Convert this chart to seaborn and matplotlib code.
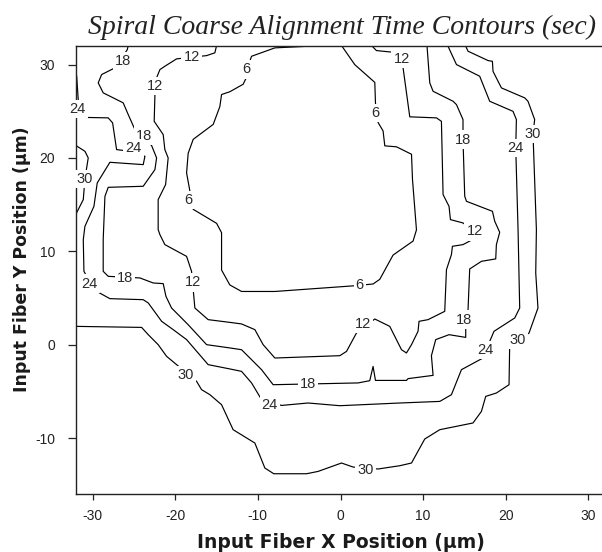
import matplotlib
matplotlib.use("Agg")
import matplotlib.pyplot as plt
import pandas as pd
import seaborn as sns

# ---- contour levels (sec) ----
levels = [6, 12, 18, 24, 30]

# ---- contour paths (x, y in um) ----
c6_x = [-2.1, -7.94, -10.76, -10.88, -11.45, -11.78, -13.39, -14.39, -14.6, -15.4, -17.82, -18.43,
        -18.62, -17.82, -14.99, -14.39, -14.39, -13.39, -11.97, -7.94, 1.52, 3.94, 4.75, 6.36, 8.78,
        9.19, 8.71, 8.59, 6.77, 5.36, 5.15, 4.55, 4.23, 4.15, 1.73, 0.12]
c6_y = [32.05, 31.8, 30.9, 30.6, 28.5, 27.9, 27.1, 26.8, 25.5, 23.6, 22.0, 20.5,
        18.4, 14.5, 13.0, 12.0, 8.0, 6.4, 5.7, 5.7, 6.3, 6.5, 7.0, 9.6, 11.1,
        12.3, 17.7, 20.4, 21.2, 21.3, 22.9, 23.8, 25.9, 28.1, 30.0, 32.05]

c12_x = [-14.99, -15.2, -16.2, -19.83, -21.25, -21.85, -22.25, -22.45, -22.54, -21.45, -21.25, -20.85,
         -21.16, -22.06, -22.06, -21.85, -21.25, -18.62, -18.02, -17.62, -16.01, -13.39, -11.97, -10.36,
         -9.36, -7.94, -0.08, 0.73, 1.93, 4.15, 5.96, 7.38, 7.98, 8.59, 9.38, 9.5, 10.59, 12.61, 12.82,
         13.42, 13.54, 14.82, 15.96, 16.3, 14.82, 13.3, 13.13, 12.41, 12.21, 11.61, 8.38, 7.57, 6.36, 4.35, 3.75]
c12_y = [32.05, 31.27, 30.97, 30.62, 29.83, 29.47, 28.59, 26.8, 23.93, 22.51, 20.9, 20.01,
         17.15, 15.54, 12.33, 11.79, 10.72, 9.46, 7.86, 3.93, 2.68, 2.39, 2.22, 1.61,
         0.0, -1.43, -1.18, -0.72, 1.25, 2.75, 1.96, -0.54, -0.89, 0.0, 1.43, 2.5, 2.68, 3.57, 8.04,
         9.65, 10.54, 10.72, 11.25, 12.1, 13.04, 13.4, 14.82, 16.08, 23.93, 24.3, 24.41, 29.66, 31.33, 31.51, 32.05]

c18_x = [-25.68, -25.8, -27.29, -28.9, -29.31, -28.71, -26.29, -25.68, -24.87, -22.85, -22.25, -22.45,
         -23.87, -28.1, -28.5, -28.71, -28.71, -28.1, -24.27, -22.66, -21.45, -21.12, -20.44, -18.43,
         -16.2, -13.39, -11.97, -9.55, -8.15, 2.13, 3.54, 3.94, 4.23, 7.98, 8.17, 11.2, 11.0, 11.52,
         13.13, 15.15, 15.15, 15.43, 15.63, 17.05, 18.78, 18.86, 19.26, 18.66, 18.38, 17.85, 15.24,
         15.03, 14.82, 14.82, 14.03, 13.62, 11.2, 10.8, 10.47]
c18_y = [32.05, 31.6, 29.66, 28.94, 28.05, 26.98, 25.91, 24.65, 23.04, 21.33, 20.01, 18.76,
         16.97, 16.86, 15.89, 11.25, 7.86, 7.32, 7.15, 6.61, 6.54, 5.18, 3.93, 2.14,
         0.0, -0.35, -0.54, -2.68, -4.29, -4.1, -3.86, -2.33, -3.83, -3.83, -3.64, -3.29, -1.18, 0.54,
         1.07, 0.78, 1.96, 3.75, 8.11, 8.93, 9.19, 10.72, 12.04, 13.22, 14.29, 14.47, 15.36,
         15.9, 21.97, 24.12, 25.72, 26.08, 27.15, 28.05, 31.97]

c24_x = [-32.0, -31.92, -31.73, -31.61, -28.1, -27.57, -27.09, -26.08, -24.27, -23.66, -23.87, -27.9,
         -29.43, -29.83, -30.92, -31.12, -31.04, -30.71, -29.5, -27.9, -23.87, -23.26, -21.64, -20.24,
         -18.62, -16.01, -13.39, -11.97, -10.76, -9.55, -7.13, -3.92, -0.08, 7.17, 12.01, 13.42, 14.63,
         17.24, 18.05, 18.57, 21.08, 21.68, 21.48, 21.2, 21.28, 20.87, 18.05, 16.84, 14.03, 13.01]
c24_y = [29.1, 28.76, 26.26, 24.36, 24.3, 23.76, 20.9, 20.79, 20.36, 20.18, 19.29, 19.54,
         17.33, 14.82, 12.68, 11.25, 7.86, 7.32, 5.71, 4.93, 4.82, 4.47, 2.5, 1.61,
         0.54, -2.14, -2.6, -2.86, -4.1, -5.89, -6.51, -6.25, -6.54, -6.25, -6.08, -5.36, -2.68,
         -1.43, 0.35, 1.43, 2.86, 3.93, 12.33, 21.08, 24.12, 25.0, 26.08, 28.76, 30.01, 31.97]

c30a_x = [-32.0, -30.92, -30.52, -30.71, -30.92, -31.12, -32.0]
c30a_y = [21.33, 20.72, 20.01, 18.94, 17.76, 15.54, 14.0]

c30b_x = [-32.0, -24.06, -23.26, -22.06, -21.04, -19.83, -17.41, -16.81, -15.8, -14.39, -12.99, -10.36,
          -9.15, -8.07, -4.11, -2.71, 0.12, 1.52, 4.55, 7.17, 8.59, 10.19, 12.01, 16.03, 17.05, 17.57,
          18.86, 20.39, 20.47, 22.81, 23.89, 23.62, 23.7, 23.29, 23.49, 22.68, 22.29, 19.47, 18.45,
          18.38, 17.85, 15.43, 15.15]
c30b_y = [1.96, 1.85, 1.07, 0.0, -1.25, -2.14, -3.93, -4.82, -5.36, -6.43, -9.11, -10.54,
          -13.22, -13.83, -13.83, -13.58, -12.68, -13.11, -13.32, -12.97, -12.68, -10.11, -9.11, -8.39, -7.15, -5.54,
          -5.18, -4.29, 0.0, 1.25, 3.93, 7.68, 12.33, 22.58, 24.12, 26.08, 26.44, 27.51, 29.29,
          30.36, 30.44, 31.44, 31.97]

# ---- inline label positions ----
lab6_x = [-11.37, -18.46, 2.33, 4.23]
lab6_y = [29.5, 15.5, 6.4, 24.8]
lab12_x = [-18.02, -22.45, -17.82, 2.73, 16.24, 7.38]
lab12_y = [30.84, 27.69, 6.68, 2.22, 12.14, 30.62]
lab18_x = [-26.29, -23.79, -26.08, -3.92, 14.95, 14.82]
lab18_y = [30.36, 22.4, 7.15, -4.18, 2.68, 21.97]
lab24_x = [-31.8, -25.08, -30.4, -8.55, 17.57, 21.2]
lab24_y = [25.26, 21.08, 6.54, -6.43, -0.54, 21.08]
lab30_x = [-30.92, -18.74, 3.06, 21.48, 23.29]
lab30_y = [17.76, -3.22, -13.4, 0.54, 22.58]

x_ticks = [-30, -20, -10, 0, 10, 20, 30]
y_ticks = [-10, 0, 10, 20, 30]

# ---- build table ----
segments = [(6, "c6", c6_x, c6_y), (12, "c12", c12_x, c12_y), (18, "c18", c18_x, c18_y),
            (24, "c24", c24_x, c24_y), (30, "c30a", c30a_x, c30a_y), (30, "c30b", c30b_x, c30b_y)]
rows = []
for lev, name, xs, ys in segments:
    for i, (xv, yv) in enumerate(zip(xs, ys)):
        rows.append({"level": lev, "seg": name, "order": i, "x": xv, "y": yv})
df = pd.DataFrame(rows)

labels = [(6, lab6_x, lab6_y), (12, lab12_x, lab12_y), (18, lab18_x, lab18_y),
          (24, lab24_x, lab24_y), (30, lab30_x, lab30_y)]

sns.set_theme(style="white")
plt.rcParams["font.family"] = ["Liberation Sans", "DejaVu Sans"]
plt.rcParams["axes.unicode_minus"] = False

fig = plt.figure(figsize=(6.02, 5.52), dpi=100)
ax = fig.add_axes([76 / 602, 1 - 494 / 552, (605 - 76) / 602, (494 - 46) / 552])

sns.lineplot(data=df, x="x", y="y", units="seg", estimator=None, sort=False,
             color="black", linewidth=0.85, ax=ax, legend=False)

for lev, lx, ly in labels:
    for xv, yv in zip(lx, ly):
        ax.text(xv, yv, str(lev), ha="center", va="center", fontsize=10.5, color="#2a2a2a",
                zorder=5, bbox=dict(boxstyle="square,pad=0.15", fc="white", ec="none"))

ax.set_xlim(-32, 32)
ax.set_ylim(-16, 32)
ax.set_xticks(x_ticks)
ax.set_yticks(y_ticks)
ax.tick_params(axis="x", direction="out", length=4, width=0.9, colors="#222222", labelsize=10, pad=7)
ax.tick_params(axis="y", direction="out", length=6, width=0.9, colors="#222222", labelsize=10, pad=9)
ax.tick_params(bottom=True, left=True)
for s in ax.spines.values():
    s.set_color("#222222")
    s.set_linewidth(1.0)
ax.spines["right"].set_visible(False)
ax.set_xlabel("")
ax.set_ylabel("")

fig.text(341 / 602, 1 - 548 / 552, "Input Fiber X Position (\u00b5m)", fontsize=13.5,
         fontweight="bold", family="DejaVu Sans", color="#1a1a1a", ha="center", va="baseline")
fig.text(22.5 / 602, 1 - 259 / 552, "Input Fiber Y Position (\u00b5m)", fontsize=12.5,
         fontweight="bold", family="DejaVu Sans", color="#1a1a1a", ha="center", va="center",
         rotation=90)

fig.text(342 / 602, 1 - 27 / 552, "Spiral Coarse Alignment Time Contours (sec)",
         ha="center", va="center", fontsize=20, style="italic", family="Liberation Serif",
         color="#222222")

fig.savefig("out.png", dpi=100)
